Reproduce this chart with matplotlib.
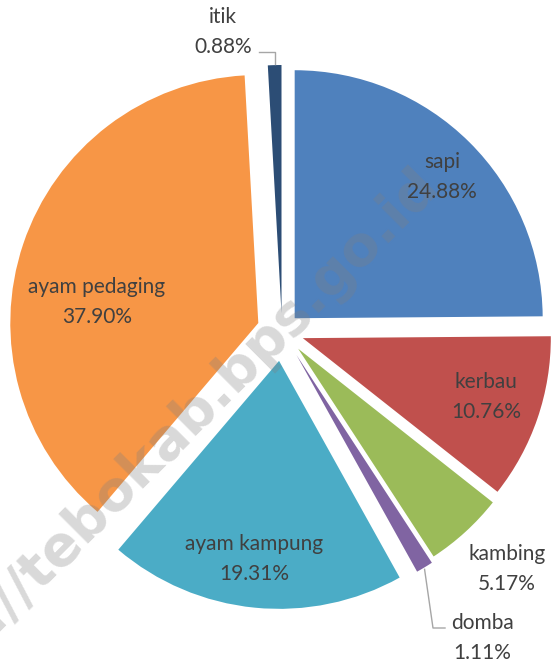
import numpy as np
import matplotlib
matplotlib.use("Agg")
import matplotlib.pyplot as plt

# data (persen populasi ternak)
animals = ["sapi", "kerbau", "kambing", "domba", "ayam kampung", "ayam pedaging", "itik"]
shares = [24.88, 10.76, 5.17, 1.11, 19.31, 37.90, 0.88]

colors = ["#4F81BD", "#C0504D", "#9BBB59", "#8064A2", "#4BACC6", "#F79646", "#2C4D75"]
# explode offsets in pixels (pie is drawn in pixel units)
explode = [18, 22, 24, 28, 30, 25, 18]

# label anchors in pixel space (y up)
label_pos = [(442, 487), (486, 267), (507, 95), (482, 26), (254, 105), (97, 362), (223, 632)]
text_color = "#404040"
font = "Lato"

W, H = 552, 664
fig = plt.figure(figsize=(W / 100, H / 100), dpi=100)
ax = fig.add_axes([0, 0, 1, 1])

wedges, _ = ax.pie(shares, colors=colors, explode=explode, startangle=90,
                   counterclock=False, radius=248, center=(282, 333),
                   wedgeprops=dict(linewidth=0))

ax.set_xlim(0, W)
ax.set_ylim(0, H)
ax.set_aspect("equal")
ax.axis("off")

for name, val, (x, y) in zip(animals, shares, label_pos):
    ax.text(x, y, f"{name}\n{val:.2f}%", ha="center", va="center",
            fontsize=15, color=text_color, family=font, linespacing=1.65, zorder=5)

# leader lines for the tiny slices
def outer_point(w):
    mid = np.deg2rad((w.theta1 + w.theta2) / 2)
    cx, cy = w.center
    return cx + w.r * np.cos(mid), cy + w.r * np.sin(mid)

ix, iy = outer_point(wedges[6])
ax.plot([259, ix, ix], [612, 612, iy + 1], color="#A6A6A6", lw=1, zorder=4)
dx, dy = outer_point(wedges[3])
ax.plot([dx, 433, 445], [dy - 2, 36, 36], color="#A6A6A6", lw=1, zorder=4)

# watermark
ax.text(430, 488, "https://tebokab.bps.go.id", rotation=45, rotation_mode="anchor",
        ha="right", va="center", fontsize=40, fontweight="bold",
        color="#808080", alpha=0.3, zorder=3, family="DejaVu Sans")

fig.savefig("out.png", dpi=100)
